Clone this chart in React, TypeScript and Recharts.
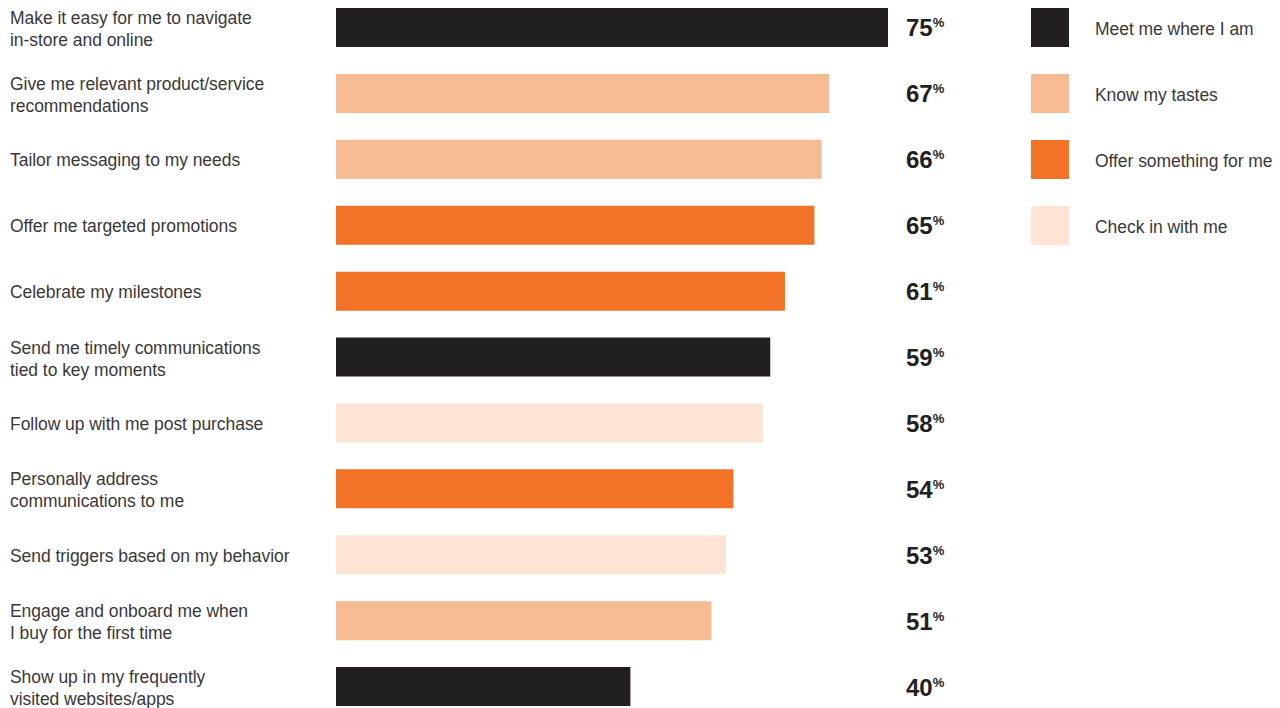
import React from 'react';
import { BarChart, Bar, XAxis, YAxis, Cell } from 'recharts';

const labels = [
  'Make it easy for me to navigate\nin-store and online',
  'Give me relevant product/service\nrecommendations',
  'Tailor messaging to my needs',
  'Offer me targeted promotions',
  'Celebrate my milestones',
  'Send me timely communications\ntied to key moments',
  'Follow up with me post purchase',
  'Personally address\ncommunications to me',
  'Send triggers based on my behavior',
  'Engage and onboard me when\nI buy for the first time',
  'Show up in my frequently\nvisited websites/apps',
];
const values = [75, 67, 66, 65, 61, 59, 58, 54, 53, 51, 40];
const groupOf = [0, 1, 1, 2, 2, 0, 3, 2, 3, 1, 0];
const groups = ['Meet me where I am', 'Know my tastes', 'Offer something for me', 'Check in with me'];
const groupColors = ['#231f20', '#f7bb93', '#f27227', '#fde4d5'];

const data = labels.map((label, i) => ({ label, value: values[i], group: groupOf[i] }));

const FONT = '"Liberation Sans", Arial, sans-serif';
const TEXT = '#3a3839';
const ROW = 725 / labels.length;

function LeftTick(props: any) {
  const { y, payload } = props;
  const lines = String(payload.value).split('\n');
  const first = lines.length > 1 ? -4 : 6.5;
  return (
    <text x={10} y={y} fill={TEXT} fontFamily={FONT} fontSize={17.5} letterSpacing={-0.05} textAnchor="start">
      {lines.map((l, i) => (
        <tspan key={i} x={10} dy={i === 0 ? first : 22}>{l}</tspan>
      ))}
    </text>
  );
}

function RightTick(props: any) {
  const { x, y, payload } = props;
  const v = values[payload.index];
  return (
    <text x={x + 10} y={y + 8.5} fill="#231f20" fontFamily={FONT} fontWeight="bold" textAnchor="start">
      <tspan fontSize={24}>{v}</tspan>
      <tspan fontSize={13} dy={-9}>%</tspan>
    </text>
  );
}

export default function App() {
  return (
    <div style={{ position: 'absolute', left: 0, top: 0, width: 1280, height: 708, overflow: 'hidden', background: '#fff' }}>
      <div style={{ position: 'absolute', left: 0, top: -5 }}>
        <BarChart
          width={1280}
          height={725}
          data={data}
          layout="vertical"
          margin={{ top: 0, right: 0, bottom: 0, left: 0 }}
        >
          <XAxis type="number" domain={[0, 75]} hide />
          <YAxis yAxisId="left" type="category" dataKey="label" width={336} axisLine={false} tickLine={false} tick={<LeftTick />} interval={0} />
          <YAxis yAxisId="right" orientation="right" type="category" dataKey="label" width={392} axisLine={false} tickLine={false} tick={<RightTick />} interval={0} />
          <Bar yAxisId="left" dataKey="value" barSize={39} isAnimationActive={false}>
            {data.map((d, i) => (
              <Cell key={i} fill={groupColors[d.group]} />
            ))}
          </Bar>
        </BarChart>
      </div>
      <div style={{ position: 'absolute', left: 1031, top: -5 }}>
        {groups.map((g, i) => (
          <div key={g} style={{ height: ROW, display: 'flex', alignItems: 'center' }}>
            <div style={{ width: 38, height: 39, background: groupColors[i] }} />
            <span style={{ marginLeft: 26, marginTop: 3, fontFamily: FONT, fontSize: 17.5, letterSpacing: -0.05, color: TEXT, whiteSpace: 'nowrap' }}>{g}</span>
          </div>
        ))}
      </div>
    </div>
  );
}
